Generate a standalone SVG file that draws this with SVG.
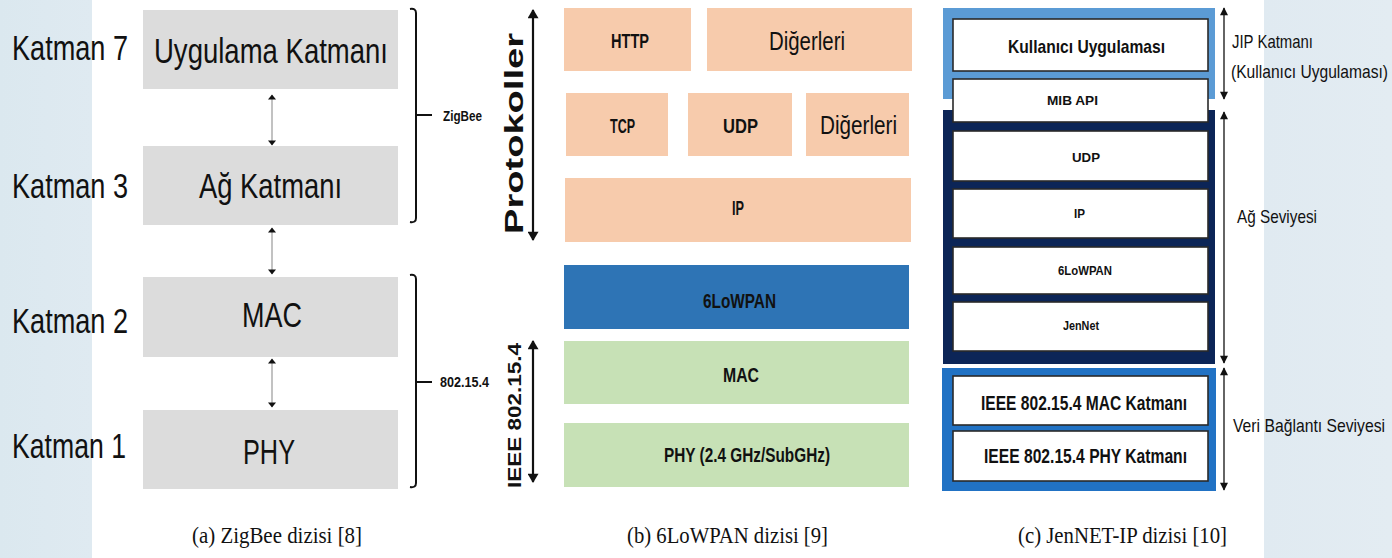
<svg xmlns="http://www.w3.org/2000/svg" width="1392" height="558" viewBox="0 0 1392 558">
<style>
.sans{font-family:"Liberation Sans",Arial,sans-serif;fill:#111}
.bold{font-family:"Liberation Sans",Arial,sans-serif;font-weight:bold;fill:#111}
.cap{font-family:"Liberation Serif","Times New Roman",serif;font-size:24px;fill:#111}
.gray{fill:#dcdcdc}
.peach{fill:#f7cbac}
.green{fill:#c7e1b6}
.wbox{fill:#ffffff;stroke:#2a2a2a;stroke-width:1.6}
</style>
<defs>
<linearGradient id="bg" x1="0" y1="0" x2="1392" y2="0" gradientUnits="userSpaceOnUse">
<stop offset="0" stop-color="#dbe8ef"/>
<stop offset="0.0661" stop-color="#dfeaf1"/>
<stop offset="0.0661" stop-color="#ffffff"/>
<stop offset="0.908" stop-color="#ffffff"/>
<stop offset="0.908" stop-color="#e0eaf1"/>
<stop offset="1" stop-color="#e3ecf2"/>
</linearGradient>
<marker id="ha" viewBox="0 0 10 16" refX="9" refY="8" markerWidth="14" markerHeight="8" markerUnits="userSpaceOnUse" orient="auto-start-reverse"><path d="M0,0 L10,8 L0,16 z" fill="#111"/></marker>
<marker id="hb" viewBox="0 0 10 12" refX="9" refY="6" markerWidth="14" markerHeight="11" markerUnits="userSpaceOnUse" orient="auto-start-reverse"><path d="M0,0 L10,6 L0,12 z" fill="#111"/></marker>
<marker id="hc" viewBox="0 0 10 10" refX="9" refY="5" markerWidth="12" markerHeight="8" markerUnits="userSpaceOnUse" orient="auto-start-reverse"><path d="M0,0 L10,5 L0,10 z" fill="#111"/></marker>
</defs>
<rect width="1392" height="558" fill="url(#bg)"/>

<!-- Panel (a) -->
<g id="a-labels">
<text class="sans" x="12" y="60" font-size="35" textLength="116" lengthAdjust="spacingAndGlyphs">Katman 7</text>
<text class="sans" x="12" y="198" font-size="35" textLength="116" lengthAdjust="spacingAndGlyphs">Katman 3</text>
<text class="sans" x="12" y="333" font-size="35" textLength="116" lengthAdjust="spacingAndGlyphs">Katman 2</text>
<text class="sans" x="12" y="458" font-size="35" textLength="114" lengthAdjust="spacingAndGlyphs">Katman 1</text>
</g>
<g id="a-app"><rect class="gray" x="143" y="10" width="255" height="79"/><text class="sans" x="154" y="63" font-size="35" textLength="234" lengthAdjust="spacingAndGlyphs">Uygulama Katmanı</text></g>
<g id="a-net"><rect class="gray" x="143" y="146" width="255" height="79"/><text class="sans" x="199" y="198" font-size="35" textLength="143" lengthAdjust="spacingAndGlyphs">Ağ Katmanı</text></g>
<g id="a-mac"><rect class="gray" x="143" y="277" width="255" height="80"/><text class="sans" x="242" y="327" font-size="35" textLength="60" lengthAdjust="spacingAndGlyphs">MAC</text></g>
<g id="a-phy"><rect class="gray" x="143" y="410" width="255" height="79"/><text class="sans" x="243" y="464" font-size="35" textLength="52" lengthAdjust="spacingAndGlyphs">PHY</text></g>
<g id="a-zigbee">
<path d="M410,9 Q416,8 416,13 L416,218 Q416,223 410,222" fill="none" stroke="#111" stroke-width="2"/>
<line x1="416" y1="115" x2="432" y2="115" stroke="#111" stroke-width="2"/>
<text class="bold" x="443" y="121" font-size="14" textLength="39" lengthAdjust="spacingAndGlyphs">ZigBee</text>
</g>
<g id="a-802">
<path d="M410,275 Q416,274 416,279 L416,483 Q416,488 410,487" fill="none" stroke="#111" stroke-width="2"/>
<line x1="416" y1="382" x2="432" y2="382" stroke="#111" stroke-width="2"/>
<text class="bold" x="440" y="387" font-size="14" textLength="49" lengthAdjust="spacingAndGlyphs">802.15.4</text>
</g>
<text class="cap" x="192" y="543" textLength="170" lengthAdjust="spacingAndGlyphs">(a) ZigBee dizisi [8]</text>

<!-- Panel (b) -->
<g id="b-http"><rect class="peach" x="564" y="8" width="127" height="63"/><text class="bold" x="611" y="48" font-size="21" textLength="38" lengthAdjust="spacingAndGlyphs">HTTP</text></g>
<g id="b-other1"><rect class="peach" x="707" y="8" width="205" height="63"/><text class="sans" x="769" y="50" font-size="25" textLength="76" lengthAdjust="spacingAndGlyphs">Diğerleri</text></g>
<g id="b-tcp"><rect class="peach" x="566" y="93" width="102" height="63"/><text class="bold" x="610" y="133" font-size="21" textLength="25" lengthAdjust="spacingAndGlyphs">TCP</text></g>
<g id="b-udp"><rect class="peach" x="688" y="93" width="104" height="63"/><text class="bold" x="723" y="133" font-size="21" textLength="35" lengthAdjust="spacingAndGlyphs">UDP</text></g>
<g id="b-other2"><rect class="peach" x="806" y="93" width="103" height="63"/><text class="sans" x="820" y="134" font-size="25" textLength="77" lengthAdjust="spacingAndGlyphs">Diğerleri</text></g>
<g id="b-ip"><rect class="peach" x="565" y="178" width="346" height="64"/><text class="bold" x="732" y="215" font-size="21" textLength="12" lengthAdjust="spacingAndGlyphs">IP</text></g>
<g id="b-6lowpan"><rect x="564" y="265" width="345" height="64" fill="#2e74b5"/><text class="bold" x="703" y="308" font-size="21" textLength="73" lengthAdjust="spacingAndGlyphs">6LoWPAN</text></g>
<g id="b-mac"><rect class="green" x="564" y="341" width="345" height="63"/><text class="bold" x="723" y="382" font-size="21" textLength="36" lengthAdjust="spacingAndGlyphs">MAC</text></g>
<g id="b-phy"><rect class="green" x="564" y="423" width="345" height="64"/><text class="bold" x="664" y="462" font-size="21" textLength="166" lengthAdjust="spacingAndGlyphs">PHY (2.4 GHz/SubGHz)</text></g>
<text class="bold" transform="translate(523,234) rotate(-90)" font-size="26" textLength="201" lengthAdjust="spacingAndGlyphs">Protokoller</text>
<text class="bold" transform="translate(521,488) rotate(-90)" font-size="18" textLength="145" lengthAdjust="spacingAndGlyphs">IEEE 802.15.4</text>
<text class="cap" x="627" y="543" textLength="201" lengthAdjust="spacingAndGlyphs">(b) 6LoWPAN dizisi [9]</text>

<!-- Panel (c) -->
<g id="c-jip-frame"><rect x="943" y="8" width="272" height="91" fill="#5b9bd5"/></g>
<g id="c-net-frame"><rect x="943" y="110" width="272" height="254" fill="#0c2557"/></g>
<g id="c-dl-frame"><rect x="942" y="368" width="274" height="123" fill="#2172c4"/></g>
<g id="c-user"><rect class="wbox" x="953" y="19" width="255" height="52"/><text class="bold" x="1008" y="53" font-size="19" textLength="157" lengthAdjust="spacingAndGlyphs">Kullanıcı Uygulaması</text></g>
<g id="c-mib"><rect class="wbox" x="953" y="79" width="255" height="43"/><text class="bold" x="1047" y="105" font-size="12" textLength="51" lengthAdjust="spacingAndGlyphs">MIB API</text></g>
<g id="c-udp"><rect class="wbox" x="953" y="131" width="255" height="50"/><text class="bold" x="1072" y="162" font-size="12" textLength="28" lengthAdjust="spacingAndGlyphs">UDP</text></g>
<g id="c-ip"><rect class="wbox" x="953" y="189" width="255" height="49"/><text class="bold" x="1074" y="218" font-size="12" textLength="11" lengthAdjust="spacingAndGlyphs">IP</text></g>
<g id="c-6lowpan"><rect class="wbox" x="953" y="247" width="255" height="47"/><text class="bold" x="1058" y="275" font-size="12" textLength="54" lengthAdjust="spacingAndGlyphs">6LoWPAN</text></g>
<g id="c-jennet"><rect class="wbox" x="953" y="302" width="255" height="49"/><text class="bold" x="1063" y="330" font-size="12" textLength="36" lengthAdjust="spacingAndGlyphs">JenNet</text></g>
<g id="c-mac"><rect class="wbox" x="953" y="376" width="255" height="49"/><text class="bold" x="981" y="410" font-size="20" textLength="206" lengthAdjust="spacingAndGlyphs">IEEE 802.15.4 MAC Katmanı</text></g>
<g id="c-phy"><rect class="wbox" x="953" y="431" width="255" height="50"/><text class="bold" x="984" y="463" font-size="20" textLength="203" lengthAdjust="spacingAndGlyphs">IEEE 802.15.4 PHY Katmanı</text></g>
<g id="c-labels">
<text class="sans" x="1232" y="48" font-size="19" textLength="81" lengthAdjust="spacingAndGlyphs">JIP Katmanı</text>
<text class="sans" x="1231" y="78" font-size="19" textLength="157" lengthAdjust="spacingAndGlyphs">(Kullanıcı Uygulaması)</text>
<text class="sans" x="1237" y="223" font-size="19" textLength="80" lengthAdjust="spacingAndGlyphs">Ağ Seviyesi</text>
<text class="sans" x="1233" y="432" font-size="19" textLength="152" lengthAdjust="spacingAndGlyphs">Veri Bağlantı Seviyesi</text>
</g>
<text class="cap" x="1018" y="543" textLength="209" lengthAdjust="spacingAndGlyphs">(c) JenNET-IP dizisi [10]</text>

<!-- Connectors -->
<g id="connectors" fill="none">
<line x1="272" y1="95" x2="272" y2="145" stroke="#999" stroke-width="1.2" marker-start="url(#ha)" marker-end="url(#ha)"/>
<line x1="272" y1="228" x2="272" y2="274" stroke="#999" stroke-width="1.2" marker-start="url(#ha)" marker-end="url(#ha)"/>
<line x1="272" y1="359" x2="272" y2="407" stroke="#999" stroke-width="1.2" marker-start="url(#ha)" marker-end="url(#ha)"/>
<line x1="533" y1="10" x2="533" y2="240" stroke="#111" stroke-width="2.2" marker-start="url(#hb)" marker-end="url(#hb)"/>
<line x1="533" y1="341" x2="533" y2="482" stroke="#111" stroke-width="2.2" marker-start="url(#hb)" marker-end="url(#hb)"/>
<line x1="1224" y1="8" x2="1224" y2="99" stroke="#111" stroke-width="1.3" marker-start="url(#hc)" marker-end="url(#hc)"/>
<line x1="1224" y1="112" x2="1224" y2="363" stroke="#111" stroke-width="1.3" marker-start="url(#hc)" marker-end="url(#hc)"/>
<line x1="1224" y1="368" x2="1224" y2="490" stroke="#111" stroke-width="1.3" marker-start="url(#hc)" marker-end="url(#hc)"/>
</g>
</svg>
